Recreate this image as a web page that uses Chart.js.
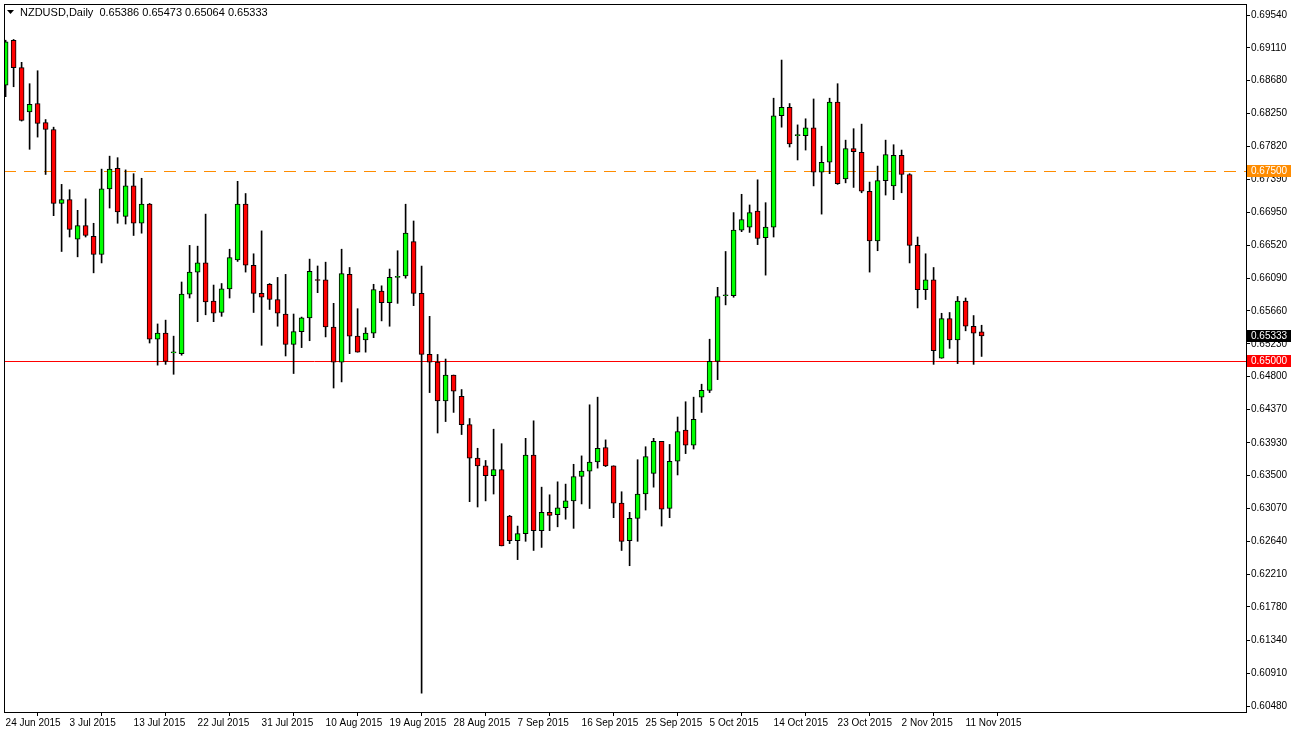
<!DOCTYPE html>
<html><head><meta charset="utf-8">
<script src="https://cdn.jsdelivr.net/npm/chart.js@4/dist/chart.umd.min.js"></script>
<style>html,body{margin:0;padding:0;background:#fff;}canvas{display:block;}</style>
</head><body>
<canvas id="c" width="1291" height="731"></canvas>
<script>
const opens  = [.6862,.6921,.6885,.6827,.6838,.6813,.6804,.6707,.6712,.6660,.6678,.6664,.6640,.6726,.6753,.6690,.6730,.6681,.6706,.6529,.6537,.6511,.6510,.6588,.6617,.6629,.6579,.6564,.6595,.6633,.6706,.6626,.6589,.6601,.6581,.6562,.6522,.6539,.6557,.6607,.6607,.6545,.6499,.6614,.6533,.6528,.6537,.6592,.6577,.6610,.6612,.6657,.6589,.6509,.6499,.6448,.6482,.6454,.6417,.6373,.6363,.6350,.6358,.6297,.6265,.6274,.6377,.6278,.6302,.6299,.6308,.6317,.6349,.6356,.6368,.6387,.6363,.6314,.6265,.6294,.6326,.6353,.6395,.6307,.6369,.6410,.6390,.6453,.6462,.6500,.6586,.6586,.6672,.6676,.6697,.6662,.6676,.6822,.6833,.6796,.6796,.6806,.6748,.6761,.6840,.6739,.6779,.6774,.6723,.6658,.6737,.6730,.6770,.6745,.6652,.6594,.6607,.6504,.6556,.6528,.6579,.6546,.65386];
const highs  = [.6921,.6922,.6892,.6864,.6881,.6817,.6807,.6732,.6725,.6698,.6713,.6681,.6752,.6769,.6767,.6751,.6746,.6740,.6707,.6549,.6554,.6533,.6604,.6652,.6651,.6693,.6600,.6602,.6647,.6736,.6720,.6641,.6671,.6602,.6610,.6614,.6562,.6558,.6634,.6625,.6630,.6576,.6647,.6623,.6569,.6544,.6601,.6599,.6621,.6645,.6706,.6684,.6625,.6559,.6509,.6503,.6482,.6463,.6425,.6386,.6370,.6411,.6392,.6298,.6284,.6399,.6422,.6335,.6325,.6342,.6339,.6365,.6376,.6443,.6453,.6397,.6363,.6329,.6302,.6371,.6388,.6399,.6395,.6391,.6427,.6447,.6453,.6470,.6529,.6597,.6644,.6695,.6719,.6705,.6738,.6708,.6845,.6895,.6838,.6810,.6818,.6844,.6782,.6845,.6864,.6790,.6805,.6811,.6735,.6756,.6790,.6784,.6777,.6746,.6663,.6641,.6623,.6563,.6564,.6585,.6583,.6560,.65473];
const lows   = [.6847,.6860,.6815,.6778,.6794,.6745,.6691,.6644,.6663,.6637,.6663,.6616,.6629,.6701,.6681,.6680,.6665,.6668,.6524,.6495,.6496,.6483,.6508,.6583,.6552,.6561,.6552,.6559,.6583,.6631,.6617,.6564,.6521,.6568,.6546,.6507,.6484,.6518,.6527,.6590,.6532,.6465,.6473,.6510,.6512,.6512,.6531,.6553,.6546,.6576,.6609,.6573,.6065,.6459,.6406,.6421,.6433,.6404,.6316,.6309,.6317,.6326,.6258,.6261,.6240,.6264,.6252,.6256,.6278,.6283,.6293,.6281,.6313,.6307,.6360,.6362,.6295,.6252,.6232,.6264,.6305,.6335,.6284,.6295,.6351,.6379,.6385,.6433,.6459,.6476,.6574,.6584,.6670,.6669,.6653,.6613,.6663,.6807,.6781,.6764,.6777,.6730,.6693,.6746,.6732,.6734,.6728,.6721,.6617,.6645,.6718,.6712,.6721,.6629,.6570,.6581,.6496,.6504,.6517,.6497,.6540,.6496,.65064];
const closes = [.6919,.6885,.6816,.6837,.6812,.6804,.6707,.6712,.6673,.6678,.6665,.6640,.6726,.6752,.6696,.6730,.6681,.6706,.6529,.6537,.6500,.6512,.6588,.6617,.6629,.6578,.6563,.6595,.6636,.6706,.6626,.6589,.6584,.6581,.6563,.6522,.6539,.6557,.6618,.6606,.6545,.6499,.6615,.6533,.6512,.6537,.6594,.6577,.6610,.6611,.6668,.6589,.6509,.6499,.6448,.6482,.6461,.6417,.6373,.6363,.6350,.6358,.6258,.6265,.6274,.6377,.6278,.6302,.6298,.6308,.6317,.6349,.6356,.6368,.6386,.6363,.6314,.6264,.6294,.6326,.6375,.6395,.6306,.6369,.6408,.6390,.6424,.6462,.6500,.6585,.6587,.6672,.6686,.6695,.6661,.6676,.6822,.6833,.6785,.6797,.6806,.6748,.6761,.6840,.6733,.6779,.6775,.6723,.6658,.6737,.6771,.6770,.6745,.6652,.6594,.6607,.6514,.6556,.6528,.6579,.6546,.6537,.65333];
const dateLabels = ["24 Jun 2015","3 Jul 2015","13 Jul 2015","22 Jul 2015","31 Jul 2015","10 Aug 2015","19 Aug 2015","28 Aug 2015","7 Sep 2015","16 Sep 2015","25 Sep 2015","5 Oct 2015","14 Oct 2015","23 Oct 2015","2 Nov 2015","11 Nov 2015"];
const yTickValues = [0.69540,0.69110,0.68680,0.68250,0.67820,0.67390,0.66950,0.66520,0.66090,0.65660,0.65230,0.64800,0.64370,0.63930,0.63500,0.63070,0.62640,0.62210,0.61780,0.61340,0.60910,0.60480];
const levelOrange = 0.67500, levelRed = 0.65000, lastPrice = 0.65333;
const title = "NZDUSD,Daily  0.65386 0.65473 0.65064 0.65333";

const wicks = lows.map((l,i)=>({x:i,y:[l,highs[i]]}));
const bodies = opens.map((o,i)=>({x:i,y:[o,closes[i]]}));
const bodyColors = opens.map((o,i)=> closes[i]>=o ? '#00FF00' : '#FF0000');
const FONT = '"Liberation Sans", Arial, sans-serif';

const overlay = {
  id:'overlay',
  beforeDraw(chart){
    const c=chart.ctx; c.save(); c.fillStyle='#fff'; c.fillRect(0,0,chart.width,chart.height); c.restore();
  },
  beforeDatasetsDraw(chart){
    const c=chart.ctx, a=chart.chartArea, y=chart.scales.y;
    c.save();
    let yo=Math.round(y.getPixelForValue(levelOrange))+0.5;
    c.strokeStyle='#FF8C00'; c.lineWidth=1; c.setLineDash([12,8]);
    c.beginPath(); c.moveTo(a.left,yo); c.lineTo(a.right,yo); c.stroke();
    c.setLineDash([]);
    let yr=Math.round(y.getPixelForValue(levelRed))+0.5;
    c.strokeStyle='#FF0000';
    c.beginPath(); c.moveTo(a.left,yr); c.lineTo(a.right,yr); c.stroke();
    c.restore();
  },
  afterDraw(chart){
    const c=chart.ctx, a=chart.chartArea, y=chart.scales.y;
    c.save();
    c.strokeStyle='#000'; c.lineWidth=1;
    c.strokeRect(a.left+0.5,a.top+0.5,a.right-a.left,a.bottom-a.top);
    c.font='10px '+FONT; c.textBaseline='middle';
    const box=(v,bg,fg,txt)=>{
      const py=Math.round(y.getPixelForValue(v));
      c.fillStyle=bg; c.fillRect(a.right+1,py-6,44,12);
      c.fillStyle=fg; c.textAlign='left'; c.fillText(txt,a.right+5,py);
    };
    box(levelOrange,'#FF8C00','#fff','0.67500');
    box(lastPrice,'#000','#fff','0.65333');
    box(levelRed,'#FF0000','#fff','0.65000');
    c.fillStyle='#000'; c.textAlign='left'; c.font='11px '+FONT;
    c.beginPath(); c.moveTo(7,10); c.lineTo(14,10); c.lineTo(10.5,14); c.closePath(); c.fill();
    c.fillText(title,20,13);
    c.restore();
  }
};

new Chart(document.getElementById('c'),{
  type:'bar',
  data:{datasets:[
    {data:wicks,backgroundColor:'#000',barThickness:1,grouped:false,minBarLength:1,order:2},
    {data:bodies,backgroundColor:bodyColors,borderColor:'#000',borderWidth:1,borderSkipped:false,barThickness:5,grouped:false,minBarLength:1,order:1}
  ]},
  options:{
    responsive:false,animation:false,
    layout:{padding:{left:4,top:4,right:0,bottom:0}},
    plugins:{legend:{display:false},tooltip:{enabled:false}},
    scales:{
      x:{type:'linear',min:-0.2,max:155.05,offset:false,
        afterBuildTicks(s){s.ticks=dateLabels.map((d,i)=>({value:i*8}));},
        afterFit(s){s.height=19;s.paddingLeft=0;s.paddingRight=0;},
        ticks:{autoSkip:false,maxRotation:0,align:'start',padding:1,color:'#000',font:{family:FONT,size:10},
          callback(v){const k=Math.round(v/8);return dateLabels[k]||'';}},
        grid:{drawOnChartArea:false,tickLength:4,color:'#000'},
        border:{color:'#000'}
      },
      y:{position:'right',min:0.60402,max:0.69685,
        afterBuildTicks(s){s.ticks=yTickValues.map(v=>({value:v}));},
        afterFit(s){s.width=45;s.paddingTop=0;s.paddingBottom=0;},
        ticks:{autoSkip:false,padding:1,color:'#000',font:{family:FONT,size:10},callback(v){return v.toFixed(5);}},
        grid:{drawOnChartArea:false,tickLength:4,color:'#000'},
        border:{color:'#000'}
      }
    }
  },
  plugins:[overlay]
});
</script>
</body></html>
